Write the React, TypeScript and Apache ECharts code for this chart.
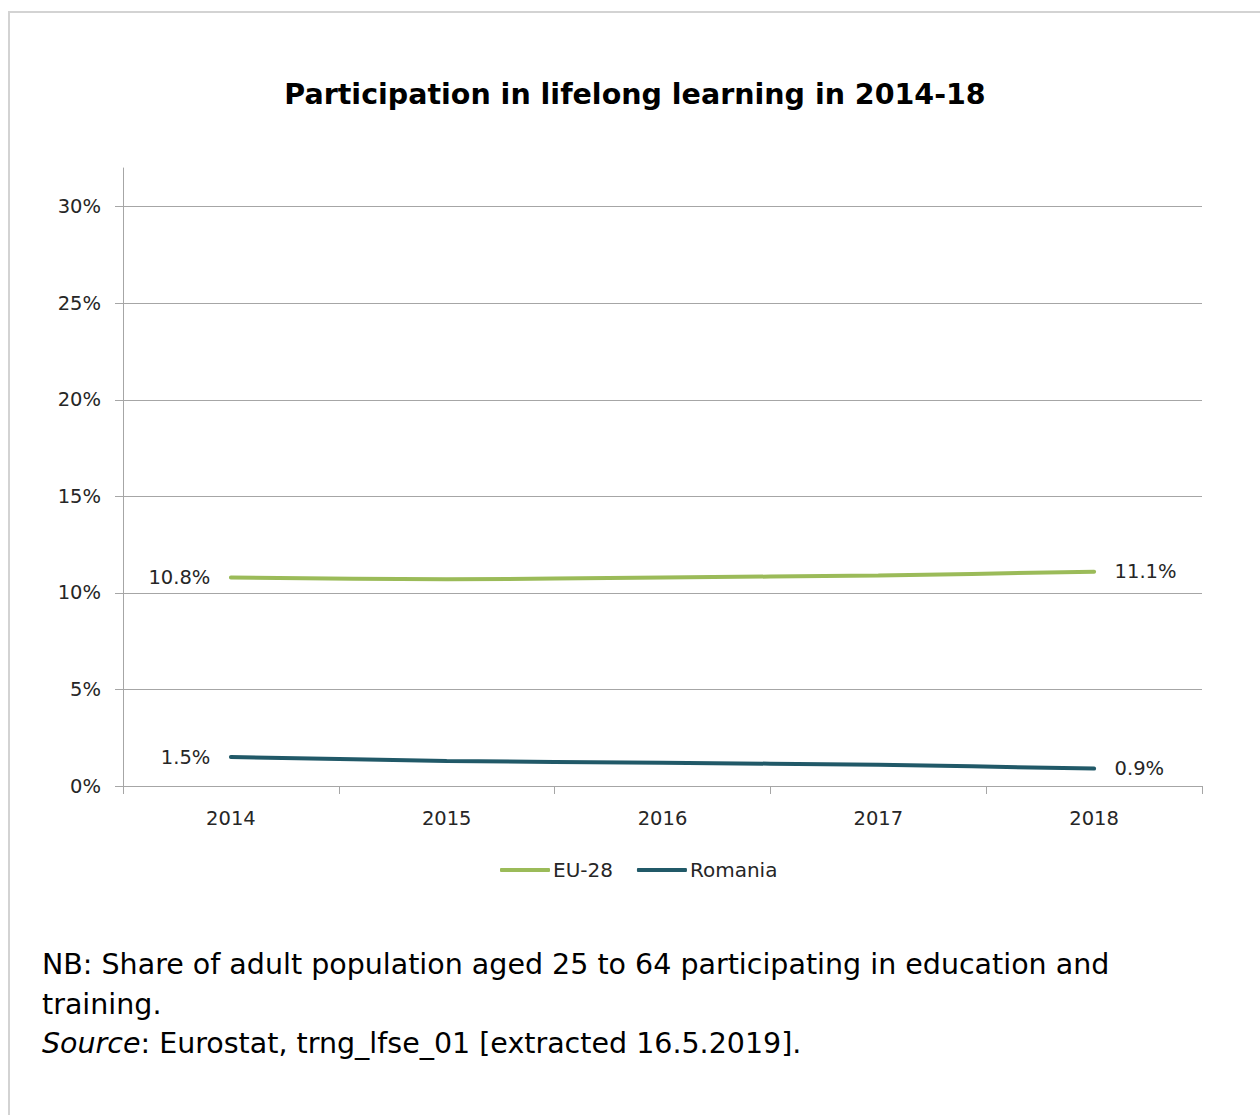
import React, { useEffect, useRef } from "react";
import * as echarts from "echarts";

const years = ["2014", "2015", "2016", "2017", "2018"];
const eu28 = [10.8, 10.7, 10.8, 10.9, 11.1];
const romania = [1.5, 1.3, 1.2, 1.1, 0.9];
const yTicks = [0, 5, 10, 15, 20, 25, 30];
const seriesNames = ["EU-28", "Romania"];
const seriesColors = ["#9BBB59", "#215968"];
const titleText = "Participation in lifelong learning in 2014-18";
const noteLines = [
  "NB: Share of adult population aged 25 to 64 participating in education and",
  "training.",
];
const sourceWord = "Source";
const sourceRest = ": Eurostat, trng_lfse_01 [extracted 16.5.2019].";

const FONT = "'DejaVu Sans', Verdana, sans-serif";

function withEndLabels(values: number[]) {
  const last = values.length - 1;
  return values.map((v, i) => {
    if (i === 0) return { value: v, label: { show: true, position: "left" } };
    if (i === last) return { value: v, label: { show: true, position: "right" } };
    return { value: v };
  });
}

export default function App() {
  const ref = useRef<HTMLDivElement>(null);

  useEffect(() => {
    if (!ref.current) return;
    const chart = echarts.init(ref.current, undefined, { renderer: "svg" });
    const allSeries = [eu28, romania].map((vals, idx) => ({
      name: seriesNames[idx],
      type: "line",
      data: withEndLabels(vals),
      smooth: 0.3,
      symbol: "circle",
      symbolSize: 1,
      showSymbol: true,
      itemStyle: { color: seriesColors[idx] },
      lineStyle: { width: 4, color: seriesColors[idx], cap: "round" },
      label: {
        show: false,
        formatter: (p: any) => `${p.value}%`,
        fontFamily: FONT,
        fontSize: 19.5,
        color: "#262626",
        distance: 20,
      },
      emphasis: { disabled: true },
    }));

    chart.setOption({
      animation: false,
      backgroundColor: "#ffffff",
      title: {
        text: titleText,
        left: 630,
        top: 75,
        textAlign: "center",
        textStyle: {
          fontFamily: FONT,
          fontSize: 28.5,
          fontWeight: "bold",
          color: "#000000",
        },
      },
      legend: {
        data: seriesNames,
        left: 495,
        top: 855,
        icon: "roundRect",
        itemWidth: 50,
        itemHeight: 4,
        itemGap: 24,
        textStyle: { fontFamily: FONT, fontSize: 20, color: "#262626", padding: [0, 0, 0, -2] },
      },
      grid: { left: 123, right: 58, top: 168, bottom: 329 },
      xAxis: {
        type: "category",
        data: years,
        boundaryGap: true,
        axisLine: { show: true, lineStyle: { color: "#a6a6a6", width: 1 } },
        axisTick: { show: true, length: 8, lineStyle: { color: "#a6a6a6" } },
        axisLabel: { fontFamily: FONT, fontSize: 19.5, color: "#262626", margin: 22 },
        splitLine: { show: false },
      },
      yAxis: {
        type: "value",
        min: 0,
        max: 32,
        interval: 5,
        axisLine: { show: true, lineStyle: { color: "#a6a6a6", width: 1 } },
        axisTick: { show: true, length: 8, lineStyle: { color: "#a6a6a6" }, customValues: yTicks },
        axisLabel: {
          fontFamily: FONT,
          fontSize: 19.5,
          color: "#262626",
          margin: 22,
          formatter: "{value}%",
          customValues: yTicks,
        },
        splitLine: {
          show: true,
          showMinLine: false,
          lineStyle: { color: "#a6a6a6", width: 1 },
        },
      },
      series: allSeries,
      graphic: [
        {
          type: "line",
          shape: { x1: 8, y1: 12, x2: 1260, y2: 12 },
          style: { stroke: "#d3d3d3", lineWidth: 2 },
          silent: true,
        },
        {
          type: "line",
          shape: { x1: 9, y1: 11, x2: 9, y2: 1115 },
          style: { stroke: "#d3d3d3", lineWidth: 2 },
          silent: true,
        },
        {
          type: "text",
          left: 42,
          top: 945,
          silent: true,
          style: {
            text: noteLines.join("\n") + "\n{i|" + sourceWord + "}" + sourceRest,
            fontFamily: FONT,
            fontSize: 28.5,
            lineHeight: 39.5,
            fill: "#000000",
            rich: {
              i: { fontFamily: FONT, fontSize: 28.5, fontStyle: "italic", lineHeight: 39.5, fill: "#000000" },
            },
          },
        },
      ],
    });
    return () => chart.dispose();
  }, []);

  return (
    <div
      ref={ref}
      style={{ position: "fixed", left: 0, top: 0, width: 1260, height: 1115, background: "#fff" }}
    />
  );
}
